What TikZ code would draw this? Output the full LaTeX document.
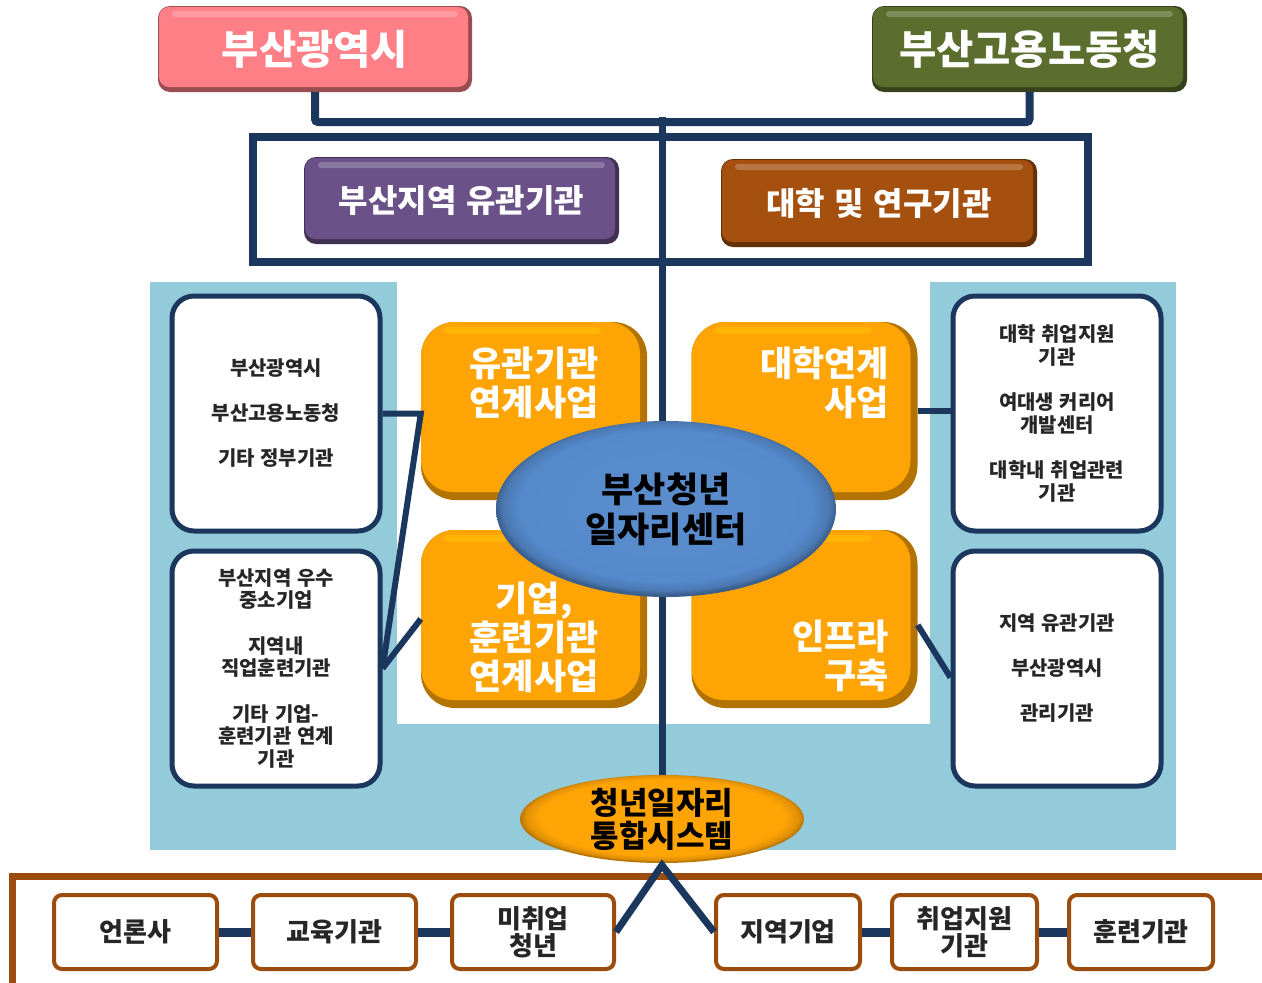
\documentclass[tikz,border=0pt]{standalone}
\usepackage{fontspec}
\setmainfont{Noto Sans CJK KR}[WordSpace=1.3]
\usetikzlibrary{calc,shapes.geometric}
\definecolor{navy}{HTML}{1B375E}
\definecolor{pinkc}{HTML}{FF7F87}
\definecolor{greenc}{HTML}{5B6E2E}
\definecolor{purplec}{HTML}{6A5188}
\definecolor{brownc}{HTML}{A5500E}
\definecolor{orangec}{HTML}{FFA405}
\definecolor{bluec}{HTML}{5589CB}
\definecolor{lightblue}{HTML}{94CBDB}
\definecolor{framebrown}{HTML}{9C4C0C}
\definecolor{textgray}{HTML}{262626}
\pgfdeclareradialshading{blueell}{\pgfpoint{0bp}{1.5bp}}{color(0bp)=(bluec!96!white); color(21.5bp)=(bluec); color(24bp)=(bluec!88!black); color(25bp)=(bluec!70!black); color(50bp)=(bluec!70!black)}
\pgfdeclareradialshading{orangeell}{\pgfpoint{0bp}{1.5bp}}{color(0bp)=(orangec); color(21.5bp)=(orangec); color(24bp)=(orangec!88!black); color(25bp)=(orangec!72!black); color(50bp)=(orangec!72!black)}
\tikzset{
  conn/.style={draw=navy, line width=7pt},
  bevel/.style={fill=#1!60!black, draw=none, rounded corners=12pt, inner sep=0pt,
    path picture={
      \fill[#1, rounded corners=10pt] ($(path picture bounding box.north west)+(1,1)$) rectangle ($(path picture bounding box.south east)+(-4,-5)$);
      \fill[white, opacity=.22, rounded corners=3pt] ($(path picture bounding box.north west)+(14,5)$) rectangle ($(path picture bounding box.north east)+(-14,11)$);
    }},
  orangebox/.style={fill=orangec!70!black, draw=none, rounded corners=34pt, inner sep=0pt,
    minimum width=226pt, minimum height=178pt,
    path picture={
      \fill[orangec, rounded corners=32pt] ($(path picture bounding box.north west)+(0,0)$) rectangle ($(path picture bounding box.south east)+(-7,-8)$);
      \fill[yellow!60!orangec, opacity=.35, rounded corners=6pt] ($(path picture bounding box.north west)+(22,5)$) rectangle ($(path picture bounding box.north east)+(-45,12)$);
    }},
  titletext/.style={text=white, font=\bfseries\fontsize{40.5}{46}\selectfont},
  subtext/.style={text=white, font=\bfseries\fontsize{32}{38}\selectfont},
  wbox/.style={draw=navy, fill=white, line width=5pt, rounded corners=22pt,
    minimum width=208pt, minimum height=235pt, inner sep=0pt, align=center,
    text=textgray, font=\bfseries\fontsize{19.9}{22.5}\selectfont},
  otext/.style={text=white, align=center, font=\bfseries\fontsize{35}{39}\selectfont, inner sep=0pt},
  bbox/.style={draw=framebrown, fill=white, line width=4pt, rounded corners=8pt,
    minimum height=74pt, inner sep=0pt, align=center,
    text=textgray, font=\bfseries\fontsize{26}{27}\selectfont},
}
\begin{document}
\begin{tikzpicture}[x=1pt,y=-1pt]
\useasboundingbox (0,0) rectangle (1262,983);
\fill[white] (0,0) rectangle (1262,983);

% light blue region
\fill[lightblue] (150,282) rectangle (1176,850);
\fill[white] (397,282) rectangle (930,724);

% top boxes
\node[bevel=pinkc, minimum width=314pt, minimum height=86pt, titletext] (busan) at (315,49) {부산광역시};
\node[bevel=greenc, minimum width=315pt, minimum height=86pt, titletext] (labor) at (1029.5,49) {부산고용노동청};

\coordinate (hj) at (662,122);
\coordinate (top) at (662,117);
\draw[conn, line width=8pt, rounded corners=3pt] (busan.south) |- (hj) -| (labor.south);

% group frame
\node[draw=navy, line width=8pt, minimum width=835pt, minimum height=125pt, inner sep=0pt] (grp) at (670.5,199.5) {};

% bottom system ellipse
\node[ellipse, shading=orangeell, minimum width=284pt, minimum height=88pt, inner sep=0pt,
  align=center, font=\bfseries\fontsize{31}{33}\selectfont, text=black] (sys) at (662,819) {청년일자리\\통합시스템};

% main vertical line
\draw[conn] (top) -- (sys.north);

\node[bevel=purplec, minimum width=315pt, minimum height=87pt, subtext] (yk) at (461.5,200.5) {부산지역 유관기관};
\node[bevel=brownc, minimum width=316pt, minimum height=88pt, subtext] (uni) at (879,203) {대학 및 연구기관};

% white boxes
\node[wbox] (box1) at (276,413.5) {부산광역시\\[22.5pt]부산고용노동청\\[22.5pt]기타 정부기관};
\node[wbox] (box2) at (276,668.5) {부산지역 우수\\중소기업\\[23pt]지역내\\직업훈련기관\\[23pt]기타 기업-\\훈련기관 연계\\기관};
\node[wbox] (box3) at (1057,413.5) {대학 취업지원\\기관\\[23pt]여대생 커리어\\개발센터\\[23pt]대학내 취업관련\\기관};
\node[wbox] (box4) at (1057,668.5) {지역 유관기관\\[22.5pt]부산광역시\\[22.5pt]관리기관};

% orange boxes
\node[orangebox] (tl) at (534,411) {};
\node[orangebox] (tr) at (804.5,411) {};
\node[orangebox] (bl) at (534,619) {};
\node[orangebox] (br) at (804.5,619) {};
\node[otext] (tlt) at (534,383) {유관기관\\연계사업};
\node[otext, anchor=east, align=right] (trt) at (889,383) {대학연계\\사업};
\node[otext] (blt) at (534,637) {기업,\\훈련기관\\연계사업};
\node[otext, anchor=east, align=right] (brt) at (889,656) {인프라\\구축};

% connectors left/right
\draw[conn, line width=6pt] (box1.east) -- (box1.east -| tl.west) -- (box2.east);
\draw[conn, line width=6pt] (bl.west) -- (box2.east);
\draw[conn, line width=6pt] (tr.east) -- (tr.east -| box3.west);
\draw[conn, line width=6pt] ($(br.east)+(0,6)$) -- ($(box4.west)+(0,9)$);

% central ellipse
\node[ellipse, shading=blueell, minimum width=340pt, minimum height=176pt, inner sep=0pt,
  align=center, font=\bfseries\fontsize{35}{40}\selectfont, text=black] (center) at (666,509) {부산청년\\일자리센터};

% bottom frame
\draw[framebrown, line width=7pt] (1275,876) -- (12,876) -- (12,987) -- (1275,987);

% bottom boxes
\node[bbox, minimum width=163pt] (press) at (135.5,932) {언론사};
\node[bbox, minimum width=163pt] (edu) at (334.5,932) {교육기관};
\node[bbox, minimum width=162pt] (mi) at (533,932) {미취업\\청년};
\node[bbox, minimum width=144pt] (local) at (788,932) {지역기업};
\node[bbox, minimum width=145pt] (job) at (964.5,932) {취업지원\\기관};
\node[bbox, minimum width=144pt] (train) at (1141,932) {훈련기관};

\draw[conn, line width=9pt] (press.east) -- (edu.west);
\draw[conn, line width=9pt] (edu.east) -- (mi.west);
\draw[conn, line width=9pt] (local.east) -- (job.west);
\draw[conn, line width=9pt] (job.east) -- (train.west);
\draw[conn, line width=7pt, line join=miter] (mi.east) -- ($(sys.south)+(0,2)$) -- (local.west);
\end{tikzpicture}
\end{document}
